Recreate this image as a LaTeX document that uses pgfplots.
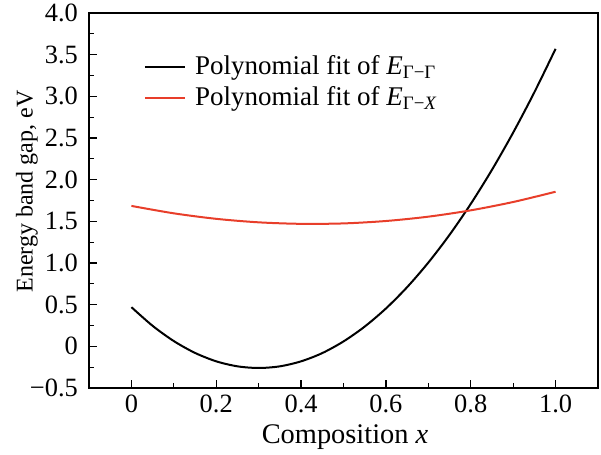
\documentclass[border=0pt]{standalone}
\usepackage{pgfplots}
\pgfplotsset{compat=1.18}
\usepackage{fontspec}
\setmainfont{Liberation Serif}
\definecolor{fitred}{RGB}{232,62,42}
\begin{document}
\fontsize{13.2}{15.5}\selectfont
\begin{tikzpicture}
\begin{axis}[
  scale only axis,
  width=254.5pt, height=187.5pt,
  xmin=-0.1, xmax=1.1, ymin=-0.5, ymax=4.0,
  xtick={0,0.2,0.4,0.6,0.8,1.0},
  xticklabels={0,0.2,0.4,0.6,0.8,1.0},
  ytick={-0.5,0,0.5,1.0,1.5,2.0,2.5,3.0,3.5,4.0},
  yticklabels={−0.5,0,0.5,1.0,1.5,2.0,2.5,3.0,3.5,4.0},
  minor xtick={0.1,0.3,0.5,0.7,0.9},
  minor ytick={-0.25,0.25,0.75,1.25,1.75,2.25,2.75,3.25,3.75},
  tick pos=left, tick align=inside,
  major tick length=4pt, minor tick length=2.5pt,
  every tick/.style={black, line width=0.6pt},
  axis line style={line width=0.7pt},
  tick label style={font=\fontsize{13.2}{15.5}\selectfont},
  xticklabel style={yshift=-2.5pt, inner ysep=1pt},
  yticklabel style={xshift=-1pt},
  xlabel={Composition \textit{x}},
  ylabel={Energy band gap, eV},
  xlabel style={at={(axis description cs:0.503,-0.147)}, anchor=base,
    font=\fontsize{14.2}{16}\selectfont, inner ysep=1pt},
  ylabel style={at={(axis description cs:-0.122,0.524)}, anchor=center,
    font=\fontsize{12}{14}\selectfont},
  legend style={at={(0.095,0.91)}, anchor=north west, draw=none, fill=none,
    font=\fontsize{13.5}{15.5}\selectfont, row sep=0pt,
    nodes={inner xsep=4.7pt}},
  legend cell align=left,
  legend image code/.code={\draw[#1, line width=1pt] (0pt,0pt) -- (20pt,0pt);},
]
\addplot[black, line width=1pt, smooth] coordinates {
(0,0.47) (0.05,0.246) (0.1,0.063) (0.15,-0.079) (0.2,-0.180) (0.25,-0.240)
(0.3,-0.260) (0.35,-0.240) (0.4,-0.180) (0.45,-0.081) (0.5,0.059) (0.55,0.237)
(0.6,0.454) (0.65,0.710) (0.7,1.005) (0.75,1.338) (0.8,1.709) (0.85,2.118)
(0.9,2.565) (0.95,3.049) (1.0,3.57)};
\addlegendentry{Polynomial fit of \textit{E}\textsubscript{Γ−Γ}}
\addplot[fitred, line width=1pt, smooth] coordinates {
(0,1.685) (0.1,1.596) (0.2,1.530) (0.3,1.488) (0.4,1.470) (0.5,1.475)
(0.6,1.504) (0.7,1.556) (0.8,1.632) (0.9,1.732) (1.0,1.855)};
\addlegendentry{Polynomial fit of \textit{E}\textsubscript{Γ−\textit{X}}}
\end{axis}
\pgfresetboundingbox
\path ([shift={(-44.5pt,-33.5pt)}]current axis.south west) rectangle ([shift={(1.5pt,6.5pt)}]current axis.north east);
\end{tikzpicture}
\end{document}
